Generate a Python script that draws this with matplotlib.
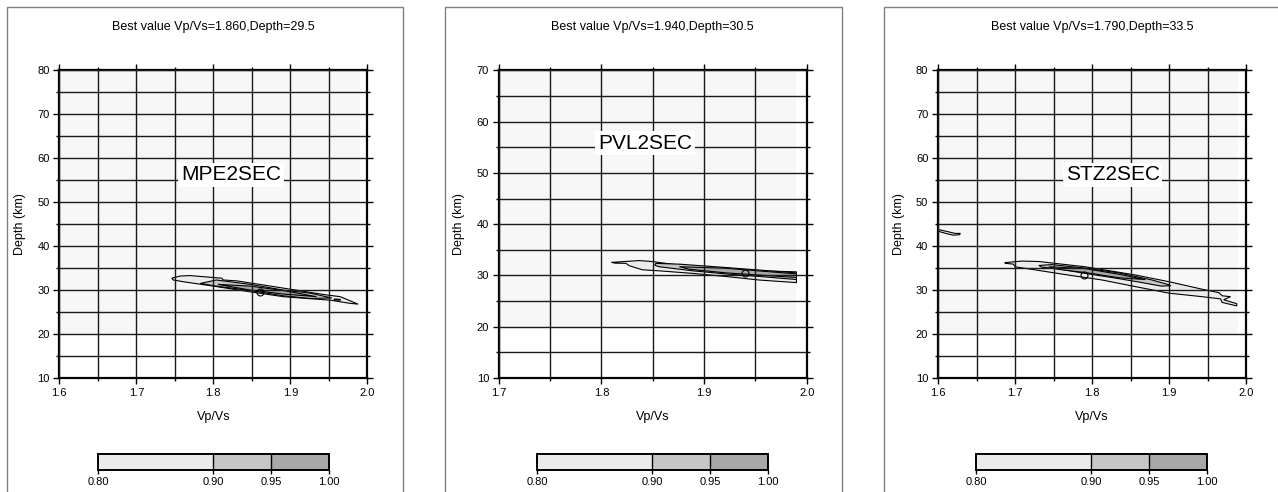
import numpy as np
import matplotlib
matplotlib.use("Agg")
import matplotlib.pyplot as plt
from matplotlib.patches import Polygon, Rectangle
from matplotlib.colors import ListedColormap, BoundaryNorm
from matplotlib.cm import ScalarMappable

plt.rcParams['font.family'] = ['Liberation Sans', 'DejaVu Sans']

# stations and best values
stations = ["MPE2SEC", "PVL2SEC", "STZ2SEC"]
best_vp = [1.860, 1.940, 1.790]
best_depth = [29.5, 30.5, 33.5]
vp_min = [1.6, 1.7, 1.6]
depth_max = [80, 70, 80]
grid_vp_max = 1.99
grid_depth_min = 20
label_vp = [1.823, 1.8425, 1.827]
label_depth = [56.2, 55.8, 56.2]

# contour levels / colours
levels = [0.80, 0.90, 0.95, 1.00]
level_colors = ['#ebebeb', '#c6c6c6', '#a8a8a8']

# contour outlines (vp, depth)
mpe_080 = [(1.746, 32.7), (1.757, 33.2), (1.770, 33.3), (1.811, 32.7), (1.813, 32.3),
           (1.830, 32.1), (1.860, 31.3), (1.900, 30.2), (1.947, 28.9), (1.965, 28.5),
           (1.988, 26.8), (1.977, 27.0), (1.952, 27.7), (1.921, 28.1), (1.891, 28.5),
           (1.848, 29.6), (1.804, 30.8), (1.761, 31.9), (1.748, 32.3)]
mpe_090 = [(1.783, 31.5), (1.804, 32.3), (1.848, 31.3), (1.891, 30.0), (1.926, 29.3),
           (1.954, 28.2), (1.926, 28.1), (1.891, 28.7), (1.848, 29.9), (1.804, 30.9)]
mpe_095 = [(1.806, 31.3), (1.848, 30.9), (1.891, 29.9), (1.934, 28.5), (1.891, 29.1),
           (1.848, 30.0)]
mpe_095b = [(1.957, 27.95), (1.965, 27.9), (1.965, 27.7), (1.957, 27.75)]

pvl_080 = [(1.810, 32.55), (1.837, 32.9), (1.850, 32.7), (1.876, 32.0), (1.921, 31.4),
           (1.954, 30.9), (1.990, 30.7), (1.990, 28.6), (1.954, 29.1), (1.921, 29.8),
           (1.889, 30.4), (1.856, 30.9), (1.840, 31.1), (1.827, 31.9), (1.824, 32.35),
           (1.813, 32.4)]
pvl_090 = [(1.853, 32.35), (1.876, 32.2), (1.921, 31.55), (1.990, 30.5), (1.990, 29.2),
           (1.954, 29.8), (1.921, 30.3), (1.889, 30.9), (1.856, 31.7), (1.852, 32.0)]
pvl_095 = [(1.876, 31.7), (1.921, 31.4), (1.990, 30.3), (1.990, 29.6), (1.921, 30.5),
           (1.886, 31.2)]

stz_080 = [(1.687, 36.25), (1.709, 36.6), (1.731, 36.5), (1.791, 35.3), (1.856, 33.45),
           (1.900, 31.9), (1.943, 30.2), (1.965, 29.4), (1.969, 28.7), (1.980, 28.5),
           (1.971, 27.8), (1.988, 26.9), (1.988, 26.4), (1.969, 27.2), (1.967, 28.0),
           (1.943, 28.5), (1.900, 29.3), (1.856, 30.8), (1.813, 32.3), (1.770, 33.4),
           (1.726, 34.6), (1.700, 35.3), (1.698, 35.9), (1.687, 36.1)]
stz_080b = [(1.600, 43.8), (1.615, 43.2), (1.622, 42.9), (1.629, 42.9), (1.628, 42.6),
            (1.620, 42.5), (1.612, 42.8), (1.600, 43.4)]
stz_090 = [(1.731, 35.6), (1.748, 35.8), (1.791, 35.0), (1.835, 33.9), (1.878, 32.3),
           (1.900, 31.2), (1.902, 31.0), (1.890, 30.9), (1.865, 31.7), (1.835, 32.6),
           (1.791, 33.8), (1.757, 34.8), (1.735, 35.2)]
stz_095 = [(1.744, 35.3), (1.791, 34.9), (1.835, 33.6), (1.869, 32.4), (1.835, 32.8),
           (1.791, 34.0), (1.757, 34.7)]

contours = [
    [(0, mpe_080), (1, mpe_090), (2, mpe_095), (2, mpe_095b)],
    [(0, pvl_080), (1, pvl_090), (2, pvl_095)],
    [(0, stz_080), (0, stz_080b), (1, stz_090), (2, stz_095)],
]

W, H = 1278, 492
fig = plt.figure(figsize=(W / 100, H / 100), dpi=100)

ax_left = [59.3, 498.7, 938.0]
cb_left = [98.0, 537.0, 976.0]
frame_x = [(6.7, 403.3), (445.0, 842.0), (884.3, 1290.0)]

for i in range(3):
    # panel frame
    x0, x1 = frame_x[i]
    fig.add_artist(Rectangle((x0 / W, -0.1), (x1 - x0) / W, 1.1 - 6.7 / H,
                             transform=fig.transFigure, fill=False,
                             ec='#808080', lw=1.0))

    ax = fig.add_axes([ax_left[i] / W, 1 - 378 / H, 308 / W, 307.7 / H])
    ax.set_xlim(vp_min[i], 2.0)
    ax.set_ylim(10, depth_max[i])

    # misfit grid background (below lowest contour)
    ax.fill_between([vp_min[i], grid_vp_max], grid_depth_min, depth_max[i],
                    color='#f7f7f7', lw=0, zorder=0.5)

    for lev, pts in contours[i]:
        ax.add_patch(Polygon(pts, closed=True, fc=level_colors[lev], ec='black',
                             lw=0.8, zorder=1))

    ax.plot(best_vp[i], best_depth[i], 'o', mfc='none', mec='black', ms=5,
            mew=0.8, zorder=4)

    ax.set_xticks(np.arange(vp_min[i], 2.0001, 0.1))
    ax.set_xticks(np.arange(vp_min[i] + 0.05, 2.0, 0.1), minor=True)
    ax.set_yticks(np.arange(10, depth_max[i] + 1, 10))
    ax.set_yticks(np.arange(15, depth_max[i], 10), minor=True)
    ax.set_xticklabels(['%.1f' % v for v in np.arange(vp_min[i], 2.0001, 0.1)])
    ax.grid(True, which='both', color='#1a1a1a', lw=1.0, zorder=2)
    ax.set_axisbelow(False)
    ax.tick_params(which='major', direction='out', length=4, width=1.0, pad=3,
                   labelsize=8, top=True, right=True)
    ax.tick_params(which='minor', direction='out', length=2, width=1.0,
                   top=True, right=True)
    for s in ax.spines.values():
        s.set_linewidth(1.6)

    ax.set_xlabel('Vp/Vs', fontsize=9, va='center')
    ax.xaxis.set_label_coords(0.5, -0.126)
    ax.set_ylabel('Depth (km)', fontsize=9, va='center')
    ax.yaxis.set_label_coords(-0.128, 0.5)

    ax.set_title('Best value Vp/Vs=%.3f,Depth=%.1f' % (best_vp[i], best_depth[i]),
                 fontsize=9, pad=29)

    ax.text(label_vp[i], label_depth[i], stations[i], fontsize=15, ha='center',
            va='center', zorder=5,
            bbox=dict(fc='white', ec='none', pad=2))

    # colour scale
    cax = fig.add_axes([cb_left[i] / W, 1 - 470 / H, 230.7 / W, 16 / H])
    cmap = ListedColormap(level_colors)
    norm = BoundaryNorm(levels, cmap.N)
    cb = fig.colorbar(ScalarMappable(norm=norm, cmap=cmap), cax=cax,
                      orientation='horizontal', spacing='proportional',
                      drawedges=True, ticks=levels)
    cb.ax.set_xticklabels(['%.2f' % v for v in levels])
    cb.outline.set_linewidth(1.4)
    cb.dividers.set_linewidth(1.0)
    cb.dividers.set_color('black')
    cb.ax.tick_params(length=3, width=1.0, pad=2, labelsize=8)

fig.savefig('out.png', dpi=100)
